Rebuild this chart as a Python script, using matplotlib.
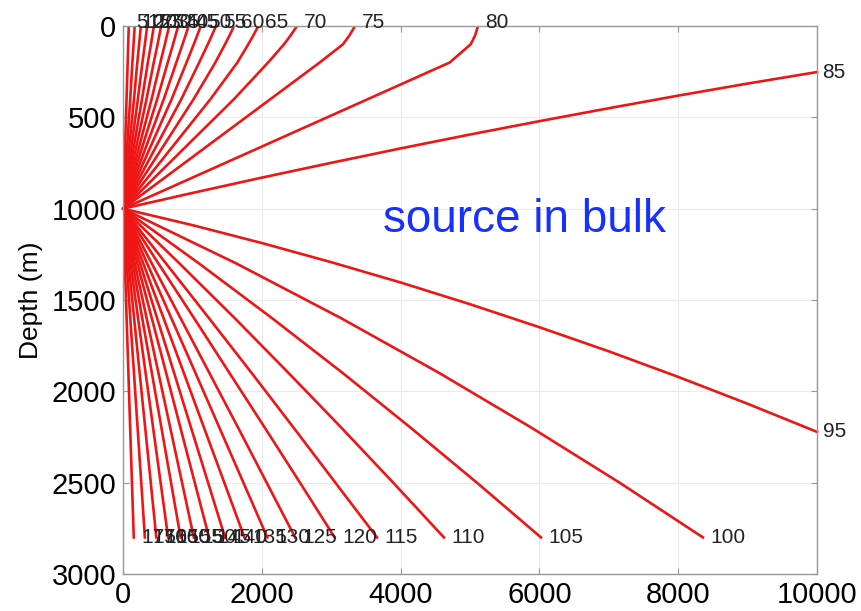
import matplotlib
matplotlib.use("Agg")
import matplotlib.pyplot as plt

plt.rcParams['font.family'] = ['Liberation Sans', 'DejaVu Sans']

# Upward rays (launch angle, degrees): x (m) read at depths 1000, 400, 200, 100, 50, 0
up_angles = [5, 10, 15, 20, 25, 30, 35, 40, 45, 50, 55, 60, 65, 70, 75, 80]
up_depths = [1000, 400, 200, 100, 50, 0]
up_x400 = [51, 104, 158, 214, 274, 339, 412, 493, 588, 701, 840, 1018, 1261, 1600, 2125, 3530]
up_x200 = [67, 135, 206, 280, 358, 443, 538, 644, 768, 915, 1097, 1330, 1647, 2090, 2833, 4706]
up_x100 = [75, 152, 232, 315, 403, 498, 603, 721, 858, 1020, 1222, 1470, 1805, 2320, 3170, 5010]
up_x50 = [79, 160, 245, 332, 424, 524, 634, 758, 902, 1071, 1282, 1537, 1880, 2418, 3265, 5075]
up_x0 = [83, 168, 257, 348, 445, 550, 665, 795, 945, 1120, 1340, 1600, 1950, 2507, 3343, 5115]

# Downward rays: x (m) read at depths 1000, 1300, 1600, 1900, 2200, 2500, 2800
down_angles = [100, 105, 110, 115, 120, 125, 130, 135, 140, 145, 150, 155, 160, 165, 170, 175]
down_depths = [1000, 1300, 1600, 1900, 2200, 2500, 2800]
down_x1300 = [1633, 1096, 814, 620, 510, 415, 348, 292, 246, 207, 170, 139, 109, 80, 53, 26]
down_x1600 = [3145, 2149, 1611, 1240, 1025, 830, 697, 585, 492, 415, 341, 277, 217, 160, 105, 52]
down_x1900 = [4559, 3167, 2387, 1855, 1535, 1245, 1045, 877, 737, 622, 511, 416, 326, 240, 158, 78]
down_x2200 = [5890, 4147, 3149, 2460, 2045, 1660, 1390, 1168, 981, 828, 681, 554, 434, 320, 210, 103]
down_x2500 = [7155, 5099, 3893, 3060, 2550, 2070, 1735, 1460, 1226, 1034, 851, 692, 542, 400, 263, 129]
down_x2800 = [8357, 6023, 4625, 3660, 3050, 2480, 2080, 1750, 1470, 1240, 1020, 830, 650, 480, 315, 155]

# Near-horizontal rays, sampled along range
side_x = [0, 1000, 2000, 3000, 4000, 5000, 6000, 7000, 8000, 9000, 10000]
ray85_depth = [1000, 914, 830, 749, 670, 594, 521, 450, 381, 315, 252]
ray95_depth = [1000, 1090, 1188, 1293, 1404, 1523, 1649, 1781, 1921, 2068, 2222]

x_ticks = [0, 2000, 4000, 6000, 8000, 10000]
y_ticks = [0, 500, 1000, 1500, 2000, 2500, 3000]

red = '#F01515'
lab_col = '#222222'
fig = plt.figure(figsize=(8.62, 6.11), dpi=100)
ax = fig.add_axes([0.1427, 0.0606, 0.8051, 0.8968])

for i, a in enumerate(up_angles):
    xs = [0, up_x400[i], up_x200[i], up_x100[i], up_x50[i], up_x0[i]]
    ax.plot(xs, up_depths, color=red, lw=1.9, solid_joinstyle='round')
    ax.text(up_x0[i] + 100, -20, str(a), fontsize=15, ha='left', va='center',
            color=lab_col, clip_on=False)

for i, a in enumerate(down_angles):
    xs = [0, down_x1300[i], down_x1600[i], down_x1900[i], down_x2200[i],
          down_x2500[i], down_x2800[i]]
    ax.plot(xs, down_depths, color=red, lw=1.9, solid_joinstyle='round')
    ax.text(down_x2800[i] + 110, 2800, str(a), fontsize=15, ha='left', va='center',
            color=lab_col, clip_on=False)

ax.plot(side_x, ray85_depth, color=red, lw=1.9, clip_on=False)
ax.plot(side_x, ray95_depth, color=red, lw=1.9, clip_on=False)
ax.text(10000 + 80, ray85_depth[-1], '85', fontsize=15, ha='left', va='center',
        color=lab_col, clip_on=False)
ax.text(10000 + 80, ray95_depth[-1], '95', fontsize=15, ha='left', va='center',
        color=lab_col, clip_on=False)

ax.text(3746, 1060, 'source in bulk', fontsize=33, color='#1530FF', ha='left', va='center')

ax.set_xlim(0, 10000)
ax.set_ylim(3000, 0)
ax.set_xticks(x_ticks)
ax.set_yticks(y_ticks)
ax.tick_params(direction='in', length=4, labelsize=21, color='#999999',
               top=True, right=True, pad=5)
ax.grid(True, color='#EBEBEB', lw=0.8)
ax.set_axisbelow(True)
for s in ax.spines.values():
    s.set_color('#999999')
    s.set_linewidth(1.0)
ax.set_ylabel('Depth (m)', fontsize=19, labelpad=6)

fig.savefig('out.png', dpi=100)
